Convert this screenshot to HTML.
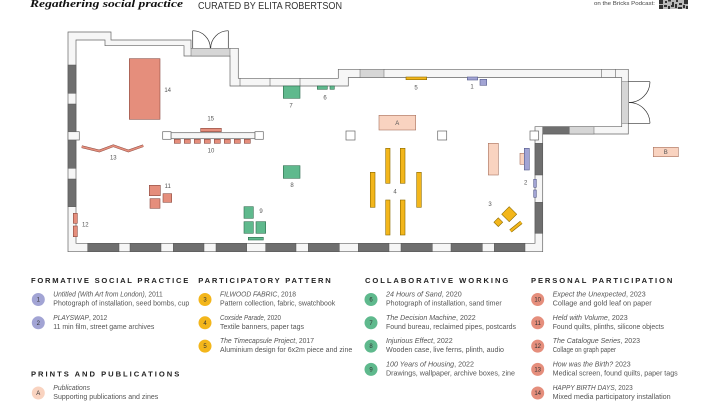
<!DOCTYPE html>
<html><head><meta charset="utf-8">
<style>
html,body{margin:0;padding:0;background:#fff;}
svg{display:block;}
text{font-family:"Liberation Sans",sans-serif;}
.lb{font-size:6px;fill:#555;text-anchor:middle;}
.h{font-size:7.6px;font-weight:bold;fill:#222;}
.t{font-size:7px;fill:#555;}
.n{font-size:6px;fill:#333;text-anchor:middle;}
.wp{fill:#f6f6f6;stroke:#666;stroke-width:0.7;}
.dk{fill:#6f6f6f;stroke:#555;stroke-width:0.5;}
.lg{fill:#d6d6d6;stroke:#666;stroke-width:0.5;}
.sa{fill:#e58e7c;stroke:#8a4a40;stroke-width:0.6;}
.gr{fill:#5fb98d;stroke:#2e6b4e;stroke-width:0.6;}
.ye{fill:#f3b61b;stroke:#8a6a00;stroke-width:0.6;}
.pu{fill:#a2a4d4;stroke:#555a8a;stroke-width:0.6;}
.pe{fill:#f9d3c0;stroke:#a8735f;stroke-width:0.6;}
</style></head><body>
<svg width="720" height="405" viewBox="0 0 720 405" xmlns="http://www.w3.org/2000/svg">
<rect width="720" height="405" fill="#fff"/>

<!-- Header -->
<text x="30" y="7" font-style="italic" font-weight="bold" font-size="11" fill="#111" textLength="153" lengthAdjust="spacingAndGlyphs" style="font-family:'Liberation Serif',serif">Regathering social practice</text>
<text x="198" y="9" font-size="10" fill="#333" textLength="144" lengthAdjust="spacingAndGlyphs">CURATED BY ELITA ROBERTSON</text>
<text x="594" y="5" font-size="5" fill="#444" textLength="61" lengthAdjust="spacingAndGlyphs">on the Bricks Podcast:</text>
<g fill="#333">
<rect x="659" y="0" width="29" height="9" fill="#bbb"/>
<rect x="659" y="0" width="4" height="4"/><rect x="684" y="0" width="4" height="4"/><rect x="659" y="5" width="4" height="4"/>
<rect x="665" y="1" width="2" height="2"/><rect x="668" y="0" width="3" height="1.5"/><rect x="672" y="2" width="2" height="3"/><rect x="676" y="0" width="2" height="2"/><rect x="679" y="3" width="3" height="2"/>
<rect x="664" y="5" width="3" height="2"/><rect x="668" y="6" width="2" height="3"/><rect x="671" y="5" width="3" height="2"/><rect x="675" y="4" width="2" height="4"/><rect x="678" y="7" width="4" height="2"/><rect x="683" y="5" width="2" height="3"/><rect x="686" y="6" width="2" height="3"/>
</g>

<!-- Walls band -->
<path class="wp" fill-rule="evenodd" d="M68,32 L111,32 L111,40 L191,40 L191,48.3 L238.3,48.3 L238.3,78.3 L338.3,78.3 L338.3,69.3 L628.3,69.3 L628.3,134 L542.7,134 L542.7,251.7 L68,251.7 Z M76,40 L105,40 L105,45.7 L184,45.7 L184,56 L230,56 L230,86 L348.3,86 L348.3,77.5 L621.7,77.5 L621.7,126.7 L535,126.7 L535,243.3 L76,243.3 Z"/>
<rect class="lg" x="191" y="48.3" width="39" height="7.7"/>
<rect class="lg" x="621.7" y="81.7" width="6.6" height="41.6"/>
<rect class="dk" x="68" y="65" width="8" height="28.3"/>
<rect class="dk" x="68" y="104" width="8" height="27.7"/>
<rect class="dk" x="68" y="140" width="8" height="28.3"/>
<rect class="dk" x="68" y="179" width="8" height="27.7"/>
<rect class="wp" x="68" y="131.7" width="11.3" height="8.3"/>
<g>
<rect class="dk" x="87.7" y="243.3" width="31.3" height="8.4"/>
<rect class="dk" x="130" y="243.3" width="31" height="8.4"/>
<rect class="dk" x="173.3" y="243.3" width="30.7" height="8.4"/>
<rect class="dk" x="216" y="243.3" width="30.7" height="8.4"/>
<rect class="dk" x="265.7" y="243.3" width="30.3" height="8.4"/>
<rect class="dk" x="308.3" y="243.3" width="31" height="8.4"/>
<rect class="dk" x="358.3" y="243.3" width="30.7" height="8.4"/>
<rect class="dk" x="401" y="243.3" width="31.3" height="8.4"/>
<rect class="dk" x="451" y="243.3" width="31.3" height="8.4"/>
<rect class="dk" x="494.3" y="243.3" width="30.7" height="8.4"/>
</g>
<rect class="dk" x="535" y="143.3" width="7.7" height="31.7"/>
<rect class="dk" x="535" y="202.3" width="7.7" height="31"/>
<rect class="dk" x="542.7" y="126.7" width="26.6" height="7.3"/>
<rect class="lg" x="569.3" y="126.7" width="24.7" height="7.3"/>
<rect class="lg" x="360" y="69.3" width="24" height="8.2"/>
<g stroke="#666" stroke-width="0.6">
<line x1="601.7" y1="69.3" x2="601.7" y2="77.5"/>
<line x1="615.7" y1="69.3" x2="615.7" y2="77.5"/>
<line x1="240" y1="78.3" x2="240" y2="86"/>
<line x1="270" y1="78.3" x2="270" y2="86"/>
<line x1="300" y1="78.3" x2="300" y2="86"/>
</g>
<g fill="none" stroke="#333" stroke-width="0.7">
<line x1="192.7" y1="30.7" x2="192.7" y2="48.3"/>
<line x1="228.3" y1="30.7" x2="228.3" y2="48.3"/>
<path d="M192.7,30.7 A17.6,17.6 0 0 1 210.3,48.3"/>
<path d="M228.3,30.7 A17.6,17.6 0 0 0 210.7,48.3"/>
<line x1="628.3" y1="81.7" x2="650" y2="81.7"/>
<line x1="628.3" y1="123.3" x2="650" y2="123.3"/>
<path d="M650,81.7 A21,21 0 0 1 629,102.5"/>
<path d="M650,123.3 A21,21 0 0 0 629,102.5"/>
</g>
<rect class="wp" x="346" y="131" width="9" height="9" style="fill:#fff"/>
<rect class="wp" x="437.7" y="131" width="9" height="9" style="fill:#fff"/>
<rect class="wp" x="530" y="131" width="8.5" height="9" style="fill:#fff"/>
<rect class="wp" x="171" y="132.7" width="84" height="6"/>
<rect class="wp" x="162.7" y="131.7" width="8.3" height="7.6" style="fill:#fff"/>
<rect class="wp" x="255" y="131.7" width="8.3" height="7.6" style="fill:#fff"/>

<!-- salmon works -->
<rect class="sa" x="129.3" y="58.7" width="30.7" height="60.6"/>
<rect class="sa" x="200.7" y="128.3" width="20.6" height="3.4"/>
<g>
<rect class="sa" x="174.3" y="139.3" width="6" height="4"/>
<rect class="sa" x="184.3" y="139.3" width="6" height="4"/>
<rect class="sa" x="194.3" y="139.3" width="6" height="4"/>
<rect class="sa" x="204.3" y="139.3" width="6" height="4"/>
<rect class="sa" x="214.3" y="139.3" width="6" height="4"/>
<rect class="sa" x="224.3" y="139.3" width="6" height="4"/>
<rect class="sa" x="234.3" y="139.3" width="6" height="4"/>
<rect class="sa" x="244.3" y="139.3" width="6" height="4"/>
</g>
<polyline points="81.7,146.7 99.3,151 113.3,145.7 128.3,151 143.3,145.7" fill="none" stroke="#8a4a40" stroke-width="2.6"/>
<polyline points="81.7,146.7 99.3,151 113.3,145.7 128.3,151 143.3,145.7" fill="none" stroke="#e58e7c" stroke-width="1.6"/>
<rect class="sa" x="149.3" y="185.3" width="11" height="10.4"/>
<rect class="sa" x="150" y="198.7" width="10" height="9.6"/>
<rect class="sa" x="163" y="193.7" width="8.7" height="8.6"/>
<rect class="sa" x="73.3" y="213.3" width="4" height="10"/>
<rect class="sa" x="73.3" y="226" width="4" height="10.7"/>

<!-- green works -->
<rect class="gr" x="283.3" y="86" width="16.7" height="12.3"/>
<rect class="gr" x="283.3" y="165.7" width="16.7" height="12.6"/>
<rect class="gr" x="244" y="206.7" width="9.3" height="11.6"/>
<rect class="gr" x="244" y="221.7" width="9.3" height="11.6"/>
<rect class="gr" x="256" y="221.7" width="9.7" height="11.6"/>
<rect class="gr" x="248.3" y="237.3" width="15" height="2.7"/>
<rect class="gr" x="317.3" y="86" width="10" height="3.3"/>
<rect class="gr" x="330" y="86" width="4.3" height="3.3"/>

<!-- yellow works -->
<rect class="ye" x="406" y="77" width="20.7" height="2.7"/>
<rect class="ye" x="385.7" y="148.3" width="4.3" height="35"/>
<rect class="ye" x="400.3" y="148.3" width="4.7" height="35"/>
<rect class="ye" x="370.3" y="172.3" width="4.7" height="35"/>
<rect class="ye" x="416.7" y="172.3" width="4.6" height="35"/>
<rect class="ye" x="385.7" y="200" width="4.3" height="35"/>
<rect class="ye" x="400.3" y="200" width="4.7" height="35"/>
<polygon class="ye" points="509.2,206.7 516.7,214.2 509.2,221.7 501.7,214.2"/>
<polygon class="ye" points="498.3,217.8 502.7,222.2 498.3,226.6 493.9,222.2"/>
<line x1="510.5" y1="231" x2="521.3" y2="222.3" stroke="#8a6a00" stroke-width="3.6"/>
<line x1="510.5" y1="231" x2="521.3" y2="222.3" stroke="#f3b61b" stroke-width="2.4"/>

<!-- purple works -->
<rect class="pu" x="467.3" y="77" width="10.4" height="3"/>
<rect class="pu" x="480" y="79.3" width="6.7" height="6"/>
<rect class="pe" x="520" y="153.3" width="4.3" height="11"/>
<rect class="pu" x="524.3" y="148.3" width="5" height="21.7"/>
<rect class="pu" x="533.7" y="179.3" width="2.6" height="8"/>
<rect class="pu" x="533.7" y="190" width="2.6" height="7.3"/>

<!-- peach -->
<rect class="pe" x="379" y="115.3" width="36.7" height="14.7"/>
<rect class="pe" x="488.3" y="143.3" width="10" height="31.7"/>
<rect class="pe" x="653.3" y="147.3" width="25" height="9.4"/>

<!-- floor labels -->
<text class="lb" x="167.7" y="92">14</text>
<text class="lb" x="210.7" y="120.3">15</text>
<text class="lb" x="211" y="152.7">10</text>
<text class="lb" x="113.3" y="159.3">13</text>
<text class="lb" x="167.7" y="188">11</text>
<text class="lb" x="85.3" y="226.3">12</text>
<text class="lb" x="291" y="107.3">7</text>
<text class="lb" x="292" y="187">8</text>
<text class="lb" x="261" y="213">9</text>
<text class="lb" x="325" y="99.7">6</text>
<text class="lb" x="416" y="89.7">5</text>
<text class="lb" x="472" y="88.7">1</text>
<text class="lb" x="395" y="193.7">4</text>
<text class="lb" x="525.7" y="184.3">2</text>
<text class="lb" x="490" y="206">3</text>
<text class="lb" x="397.3" y="124.8">A</text>
<text class="lb" x="665.8" y="154.2">B</text>

<!-- Legend headings -->
<text class="h" x="31" y="283" textLength="157.3" lengthAdjust="spacing">FORMATIVE SOCIAL PRACTICE</text>
<text class="h" x="198.3" y="283" textLength="132.4" lengthAdjust="spacing">PARTICIPATORY PATTERN</text>
<text class="h" x="365" y="283" textLength="143.3" lengthAdjust="spacing">COLLABORATIVE WORKING</text>
<text class="h" x="531" y="283" textLength="141.3" lengthAdjust="spacing">PERSONAL PARTICIPATION</text>
<text class="h" x="31" y="376.5" textLength="148.3" lengthAdjust="spacing">PRINTS AND PUBLICATIONS</text>

<!-- Col 1 -->
<circle cx="38.3" cy="299.5" r="6.5" fill="#a2a4d4"/><text class="n" x="38.3" y="301.6">1</text>
<text class="t" x="53.3" y="296.5" textLength="109.4" lengthAdjust="spacingAndGlyphs"><tspan font-style="italic">Untitled (With Art from London)</tspan>, 2011</text>
<text class="t" x="53.3" y="305.5" textLength="136" lengthAdjust="spacingAndGlyphs">Photograph of installation, seed bombs, cup</text>
<circle cx="38.3" cy="322.8" r="6.5" fill="#a2a4d4"/><text class="n" x="38.3" y="324.9">2</text>
<text class="t" x="53.3" y="319.8" textLength="54" lengthAdjust="spacingAndGlyphs"><tspan font-style="italic">PLAYSWAP</tspan>, 2012</text>
<text class="t" x="53.3" y="328.8" textLength="101" lengthAdjust="spacingAndGlyphs">11 min film, street game archives</text>
<circle cx="38.3" cy="393" r="6.5" fill="#f9d3c0"/><text class="n" x="38.3" y="395.1">A</text>
<text class="t" x="53.3" y="390" textLength="36.7" lengthAdjust="spacingAndGlyphs" font-style="italic">Publications</text>
<text class="t" x="53.3" y="399" textLength="105" lengthAdjust="spacingAndGlyphs">Supporting publications and zines</text>

<!-- Col 2 -->
<circle cx="205" cy="299.5" r="6.5" fill="#f3b61b"/><text class="n" x="205" y="301.6">3</text>
<text class="t" x="220" y="296.5" textLength="76" lengthAdjust="spacingAndGlyphs"><tspan font-style="italic">FILWOOD FABRIC</tspan>, 2018</text>
<text class="t" x="220" y="305.5" textLength="115.3" lengthAdjust="spacingAndGlyphs">Pattern collection, fabric, swatchbook</text>
<circle cx="205" cy="322.8" r="6.5" fill="#f3b61b"/><text class="n" x="205" y="324.9">4</text>
<text class="t" x="220" y="319.8" textLength="61" lengthAdjust="spacingAndGlyphs"><tspan font-style="italic">Coxside Parade</tspan>, 2020</text>
<text class="t" x="220" y="328.8" textLength="84" lengthAdjust="spacingAndGlyphs">Textile banners, paper tags</text>
<circle cx="205" cy="346.1" r="6.5" fill="#f3b61b"/><text class="n" x="205" y="348.2">5</text>
<text class="t" x="220" y="343.1" textLength="94" lengthAdjust="spacingAndGlyphs"><tspan font-style="italic">The Timecapsule Project</tspan>, 2017</text>
<text class="t" x="220" y="352.1" textLength="132.3" lengthAdjust="spacingAndGlyphs">Aluminium design for 6x2m piece and zine</text>

<!-- Col 3 -->
<circle cx="371" cy="299.5" r="6.5" fill="#5fb98d"/><text class="n" x="371" y="301.6">6</text>
<text class="t" x="386" y="296.5" textLength="75.7" lengthAdjust="spacingAndGlyphs"><tspan font-style="italic">24 Hours of Sand</tspan>, 2020</text>
<text class="t" x="386" y="305.5" textLength="115.7" lengthAdjust="spacingAndGlyphs">Photograph of installation, sand timer</text>
<circle cx="371" cy="322.8" r="6.5" fill="#5fb98d"/><text class="n" x="371" y="324.9">7</text>
<text class="t" x="386" y="319.8" textLength="89.7" lengthAdjust="spacingAndGlyphs"><tspan font-style="italic">The Decision Machine</tspan>, 2022</text>
<text class="t" x="386" y="328.8" textLength="130" lengthAdjust="spacingAndGlyphs">Found bureau, reclaimed pipes, postcards</text>
<circle cx="371" cy="346.1" r="6.5" fill="#5fb98d"/><text class="n" x="371" y="348.2">8</text>
<text class="t" x="386" y="343.1" textLength="66.7" lengthAdjust="spacingAndGlyphs"><tspan font-style="italic">Injurious Effect</tspan>, 2022</text>
<text class="t" x="386" y="352.1" textLength="118" lengthAdjust="spacingAndGlyphs">Wooden case, live ferns, plinth, audio</text>
<circle cx="371" cy="369.4" r="6.5" fill="#5fb98d"/><text class="n" x="371" y="371.5">9</text>
<text class="t" x="386" y="366.4" textLength="88" lengthAdjust="spacingAndGlyphs"><tspan font-style="italic">100 Years of Housing</tspan>, 2022</text>
<text class="t" x="386" y="375.4" textLength="129" lengthAdjust="spacingAndGlyphs">Drawings, wallpaper, archive boxes, zine</text>

<!-- Col 4 -->
<circle cx="537.7" cy="299.5" r="6.5" fill="#e58e7c"/><text class="n" x="537.7" y="301.6">10</text>
<text class="t" x="552.7" y="296.5" textLength="93" lengthAdjust="spacingAndGlyphs"><tspan font-style="italic">Expect the Unexpected</tspan>, 2023</text>
<text class="t" x="552.7" y="305.5" textLength="99" lengthAdjust="spacingAndGlyphs">Collage and gold leaf on paper</text>
<circle cx="537.7" cy="322.8" r="6.5" fill="#e58e7c"/><text class="n" x="537.7" y="324.9">11</text>
<text class="t" x="552.7" y="319.8" textLength="75" lengthAdjust="spacingAndGlyphs"><tspan font-style="italic">Held with Volume</tspan>, 2023</text>
<text class="t" x="552.7" y="328.8" textLength="111.3" lengthAdjust="spacingAndGlyphs">Found quilts, plinths, silicone objects</text>
<circle cx="537.7" cy="346.1" r="6.5" fill="#e58e7c"/><text class="n" x="537.7" y="348.2">12</text>
<text class="t" x="552.7" y="343.1" textLength="87.3" lengthAdjust="spacingAndGlyphs"><tspan font-style="italic">The Catalogue Series</tspan>, 2023</text>
<text class="t" x="552.7" y="352.1" textLength="63.3" lengthAdjust="spacingAndGlyphs">Collage on graph paper</text>
<circle cx="537.7" cy="369.4" r="6.5" fill="#e58e7c"/><text class="n" x="537.7" y="371.5">13</text>
<text class="t" x="552.7" y="366.4" textLength="78" lengthAdjust="spacingAndGlyphs"><tspan font-style="italic">How was the Birth?</tspan> 2023</text>
<text class="t" x="552.7" y="375.4" textLength="125" lengthAdjust="spacingAndGlyphs">Medical screen, found quilts, paper tags</text>
<circle cx="537.7" cy="393" r="6.5" fill="#e58e7c"/><text class="n" x="537.7" y="395.1">14</text>
<text class="t" x="552.7" y="390" textLength="80" lengthAdjust="spacingAndGlyphs"><tspan font-style="italic">HAPPY BIRTH DAYS</tspan>, 2023</text>
<text class="t" x="552.7" y="399" textLength="118" lengthAdjust="spacingAndGlyphs">Mixed media participatory installation</text>
</svg>
</body></html>
